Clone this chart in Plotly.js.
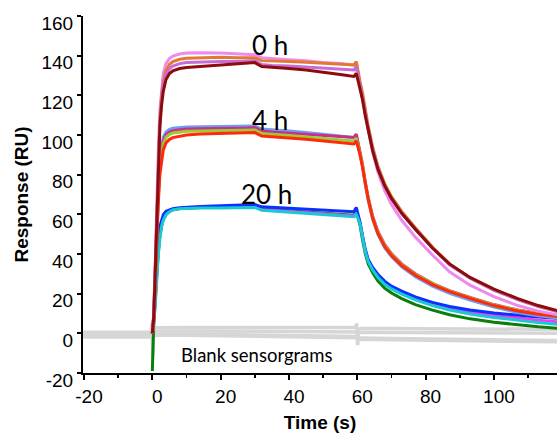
<!DOCTYPE html>
<html>
<head>
<meta charset="utf-8">
<script src="https://cdn.plot.ly/plotly-3.0.1.min.js"></script>
<style>html,body{margin:0;padding:0;background:#fff;}#chart{width:557px;height:433px;}</style>
</head>
<body>
<div id="chart"></div>
<script>
// Time grid for sample curves (s)
const T = [0,0.4,0.8,1.2,1.7,2.2,2.7,3.2,4,5, 6,8,10,14,20,25,28,30,32,35, 40,45,50,55,59,59.7,60.2,60.8,61.5,62.3, 63.2,64.5,66,68,70,73,77,82,87,93, 100,107,113,120];

// 0 h curves (RU)
const h0_violet = [0,10,33,60,90,112,124,131,136,138.5, 139.8,140.8,141.3,141.5,141.3,141,140.8,140.5,139,138.5, 138,137.5,136.5,136,135.3,136.5,131.5,126.5,120.5,111.5, 102.5,91.5,81.5,72,65,57,48.5,39.5,31,24.3, 18.5,14,11.2,8.8];
const h0_orange = [0,9,30,56,86,108,120,127,132.5,135.5, 137,138.2,138.7,139,139.2,139,139,139,137.5,137.2, 137,136.7,136.2,135.8,135.3,137,131.5,127,121.5,113, 104.5,94,84.5,75.5,69,61.5,53.2,43.5,35,28, 21.8,17,13.5,10.3];
const h0_orchid = [0,9,29,54,83,106,118,125,130.5,133.3, 134.8,136,136.5,136.8,137,137,137.2,137.5,135.5,135, 134.8,134.3,133.6,133.2,132.8,134.5,129,125,119.5,111.5, 103,93,83.5,74.5,68,60.5,52.5,43,34.6,27.8, 21.8,17,13.6,10.4];
const h0_darkred = [0,8,28,52,80,104,115,122,128,131, 132.3,133.5,134,134.5,135,135.5,136,136.5,134.5,134, 133.5,132.8,131.8,130.5,129.5,131,127.5,123.5,118,110, 102,92,83,74.5,68,60.5,52.5,43,35,28.2, 22.3,17.5,14,10.8];

// 4 h curves (RU)
const h4_cornflower = [0,8,27,50,72,88,95,99,101.5,102.8, 103.4,103.8,104,104.2,104.3,104.3,104.3,104.5,103,102.5, 102,101.3,100.5,99.8,98.8,100,96,91,84.5,75.5, 67,57.5,50,43.2,38.7,33.5,28.5,23.8,20.2,16.8, 13.2,10.5,8.8,7.4];
const h4_violetred = [0,7,25,47,69,85,93,97,100,101.5, 102.2,102.7,103,103.2,103.3,103.3,103.5,103.8,102,101.5, 101,100.3,99.7,99.2,98.8,100.5,96.5,91.5,85.5,76.5, 68.5,59,51.5,44.8,40.2,35,30,25.2,21.5,18.1, 14.5,11.8,10.1,8.7];
const h4_yellowgreen = [0,7,24,45,67,83,91,95.5,98.8,100.3, 101,101.6,101.9,102,102.2,102.2,102.3,102.5,100.8,100.3, 99.8,99,98.3,97.7,97,98.5,95,90.8,85,76, 68,58.5,51,44.3,39.8,34.6,29.7,25,21.3,17.9, 14.3,11.6,9.9,8.5];
const h4_red = [0,6,22,42,64,80,88,92.5,96,97.8, 98.7,99.5,100,100.5,100.8,101,101,101.2,99.5,99, 98.5,97.8,97,96.3,95.5,97,94,90,84,75.5, 67.5,58,50.5,43.8,39.3,34.2,29.3,24.6,21,17.6, 14,11.3,9.6,8.3];

// 20 h curves (RU)
const h20_green = [-19,5,15,28,40,49,54.5,57.5,60,61.5, 62.3,62.9,63.2,63.5,63.7,63.8,64,64.2,62.8,62.3, 61.8,61.2,60.6,60,59.6,61.5,58.5,54.5,47.5,40.5, 35,30.5,26.5,22.8,20.3,17.5,14.5,11.7,9.4,7.3, 5.6,4.2,3.3,2.4];
const h20_magenta = [0,5,16,29,41,50,55,58,60.5,61.8, 62.5,63,63.3,63.6,63.7,63.8,64,64.2,62.5,62, 61.5,60.9,60.2,59.7,59.2,61,59,55.5,49,42, 36.8,32.5,29,25.4,23,20.4,17.5,14.7,12.6,10.7, 9.1,7.6,6.6,5.7];
const h20_blue = [0,8,22,35,46,53.8,57.5,59.8,61.5,62.3, 62.8,63.3,63.6,64,64.3,64.6,64.8,65,63.8,63.5, 63.2,62.8,62.2,61.8,61.3,63.5,60,56,49.5,42.5, 37.2,33.2,29.8,26.3,23.8,21.3,18.4,15.6,13.5,11.8, 10.3,9,8.2,7.4];
const h20_cyan = [0,4,13,25,38.6,47.5,53.8,57,59.8,61.3, 62.2,62.8,63,63.2,63.2,63.3,63.4,63.5,62,61.6, 61,60.4,59.8,59.3,58.8,60,58,55,49,41.5, 36.3,32,28.3,24.7,22.4,19.8,16.9,14,11.8,9.8, 8,6.5,5.4,4.4];

// Blank sensorgrams
const TB = [-20.3,-10,-0.4,-0.1,0.1,0.4,0.8,10,20,30,40,50,59.5,59.8,60.1,60.4,61,70,80,90,100,110,120];
const blankA = [0.6,0.6,0.6,5,-12,2.5,2.8,2.9,2.9,2.9,2.9,2.9,2.9,5,-6,2,2.4,2.4,2.3,2.2,2.1,2.0,2.0];
const blankB = [-0.3,-0.3,-0.3,-0.3,-0.3,0.8,1.2,1.2,1.1,1.0,0.9,0.8,0.7,0.7,0.7,0.2,0.5,0.4,0.3,0.2,0.1,0,0];
const blankC = [-1.2,-1.2,-1.2,-1.2,-1.2,-0.5,-0.3,-0.4,-0.6,-0.8,-1.0,-1.2,-1.4,-1.4,-1.6,-2.6,-2.3,-2.6,-2.9,-3.1,-3.3,-3.5,-3.7];
const blankD = [-1.8,-1.8,-1.8,-1.8,-1.8,-1,-0.9,-1.0,-1.2,-1.4,-1.6,-1.8,-2.0,-2.0,-2.2,-3.2,-3.0,-3.2,-3.5,-3.7,-3.9,-4.1,-4.3];

// Labels
const groupLabels = [
  {text: '0 h', t: 34.5, r: 145.5},
  {text: '4 h', t: 34.5, r: 107.5},
  {text: '20 h', t: 33.5, r: 70.5}
];
const blankLabel = {text: 'Blank sensorgrams', t: 30.5, r: -10.8};
const xTicks = [-20, 0, 20, 40, 60, 80, 100];
const yTicks = [-20, 0, 20, 40, 60, 80, 100, 120, 140, 160];

const GRAY = '#d6d6d6';
function line(x, y, color, w) {
  return {x: x, y: y, type: 'scatter', mode: 'lines', line: {color: color, width: w || 3}, hoverinfo: 'skip'};
}

const traces = [
  line(TB, blankD, GRAY, 3.5),
  line(TB, blankC, GRAY, 3.5),
  line(TB, blankB, GRAY, 3.5),
  line(TB, blankA, GRAY, 3.5),
  line(T, h20_green, '#0a7d0a'),
  line(T, h20_magenta, '#f03cf0'),
  line(T, h20_blue, '#0a32ff'),
  line(T, h20_cyan, '#17c9d3'),
  line(T, h4_cornflower, '#6f9df0'),
  line(T, h4_violetred, '#c8308c'),
  line(T, h4_yellowgreen, '#9ccc32'),
  line(T, h4_red, '#ff2a0a'),
  line(T, h0_violet, '#ee8aee'),
  line(T, h0_orange, '#e07a30'),
  line(T, h0_orchid, '#c86ad8'),
  line(T, h0_darkred, '#8c0c0c')
];

const annotations = groupLabels.map(g => ({
  x: g.t, y: g.r, xref: 'x', yref: 'y', text: g.text, showarrow: false,
  font: {family: 'Lato, "Noto Sans", sans-serif', size: 26, color: '#000'}
}));
annotations.push({
  x: blankLabel.t, y: blankLabel.r, xref: 'x', yref: 'y', text: blankLabel.text, showarrow: false,
  font: {family: 'Lato, "Noto Sans", sans-serif', size: 18.5, color: '#000'}
});

const FAM = 'Liberation Sans, Arial, sans-serif';
const axisFont = {family: FAM, size: 19, color: '#000'};
const layout = {
  width: 557, height: 433,
  margin: {l: 83, r: 0, t: 16, b: 60, pad: 0},
  paper_bgcolor: '#fff', plot_bgcolor: '#fff',
  showlegend: false,
  hovermode: false,
  xaxis: {
    range: [-20.3, 118.46], showgrid: false, zeroline: false,
    showline: true, linecolor: '#000', linewidth: 2,
    ticks: 'outside', ticklen: 5, tickwidth: 2, tickcolor: '#000',
    tickvals: xTicks, ticktext: xTicks.map(String),
    minor: {tickvals: [-10, 10, 30, 50, 70, 90, 110], ticks: 'outside', ticklen: 3, tickwidth: 1.5, tickcolor: '#000'},
    tickfont: axisFont, ticklabelshift: 5,
    title: {text: '<b>Time (s)</b>', font: {family: FAM, size: 19, color: '#000'}, standoff: 12}
  },
  yaxis: {
    range: [-20, 160], showgrid: false, zeroline: false,
    showline: true, linecolor: '#000', linewidth: 2,
    ticks: 'outside', ticklen: 4, tickwidth: 2, tickcolor: '#000',
    tickvals: yTicks, ticktext: yTicks.map(String),
    tickfont: axisFont, ticklabelshift: 7,
    title: {text: '<b>Response (RU)</b>', font: {family: FAM, size: 19, color: '#000'}, standoff: 8}
  },
  annotations: annotations
};

Plotly.newPlot('chart', traces, layout, {staticPlot: true, displayModeBar: false});
</script>
</body>
</html>
